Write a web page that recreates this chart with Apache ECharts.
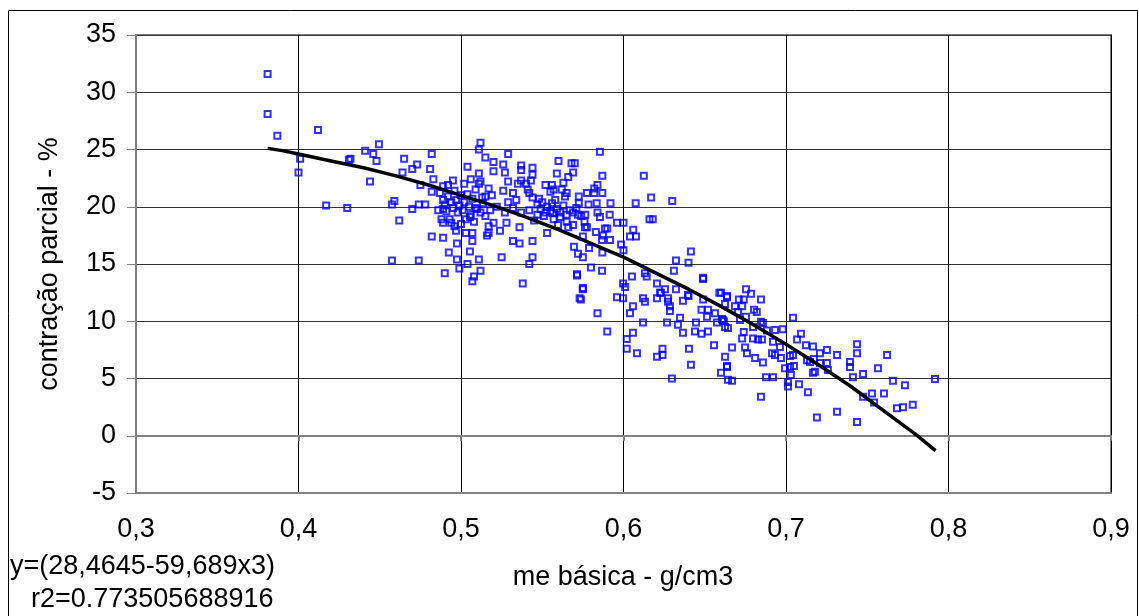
<!DOCTYPE html>
<html>
<head>
<meta charset="utf-8">
<script src="https://cdn.jsdelivr.net/npm/echarts@6/dist/echarts.min.js"></script>
<style>
html,body{margin:0;padding:0;background:#fff;}
#chart{width:1139px;height:616px;}
</style>
</head>
<body>
<div id="chart"></div>
<script>
// ---- data ----
const xTickLabels = ['0,3','0,4','0,5','0,6','0,7','0,8','0,9'];
const yTickLabels = ['-5','0','5','10','15','20','25','30','35'];
const xTitle = 'me básica - g/cm3';
const yTitle = 'contração parcial - %';
const equationText = 'y=(28,4645-59,689x3)';
const r2Text = 'r2=0.773505688916';

const scatterData = [
[0.381,31.6],[0.381,28.1],[0.387,26.2],[0.401,24.2],[0.400,23.0],[0.412,26.7],[0.417,20.1],[0.430,19.9],
[0.431,24.1],[0.432,24.2],[0.441,24.9],[0.444,22.2],[0.446,24.6],[0.448,24.0],[0.4495,25.45],
[0.465,24.2],[0.473,23.7],[0.470,23.3],[0.482,24.6],[0.481,23.3],[0.464,23.0],[0.483,22.4],[0.475,21.9],
[0.489,21.8],[0.482,21.3],[0.459,20.5],[0.4575,20.2],[0.470,19.8],[0.474,20.2],[0.478,20.2],[0.462,18.8],
[0.489,19.8],[0.489,18.6],[0.494,18.6],[0.482,17.4],[0.489,17.3],[0.4975,16.8],[0.4925,16.0],[0.4975,15.4],
[0.4575,15.3],[0.474,15.3],[0.490,14.2],[0.499,14.6],
[0.487,21.2],[0.489,20.6],[0.490,20.2],[0.491,19.6],[0.492,20.9],[0.494,20.4],[0.495,19.9],[0.496,21.4],
[0.497,20.6],[0.498,19.5],[0.499,20.1],[0.500,21.0],[0.501,19.7],[0.502,20.4],[0.503,18.9],[0.504,21.1],
[0.505,20.0],[0.506,19.3],[0.507,20.7],[0.508,18.7],[0.509,21.5],[0.510,19.8],[0.486,19.7],[0.488,18.9],
[0.493,18.9],[0.496,18.3],[0.500,18.5],[0.503,17.7],[0.497,17.9],[0.492,21.9],[0.495,22.3],[0.502,22.0],
[0.506,22.4],[0.513,20.8],[0.515,19.2],[0.517,18.3],
[0.512,25.6],[0.511,25.0],[0.515,24.3],[0.504,23.5],[0.520,23.9],[0.520,23.1],[0.526,23.7],[0.527,23.0],
[0.529,24.6],[0.537,23.6],[0.537,23.2],[0.544,23.4],[0.544,22.8],[0.511,22.9],[0.511,22.0],[0.512,22.2],
[0.517,21.6],[0.529,22.2],[0.526,21.4],[0.532,21.2],[0.535,22.0],[0.537,22.3],[0.540,22.0],[0.543,22.3],
[0.552,21.9],[0.519,21.0],[0.515,20.9],[0.529,20.4],[0.534,20.6],[0.542,21.2],[0.544,20.8],[0.547,20.2],
[0.550,20.4],[0.5135,20.3],[0.509,19.9],[0.518,19.7],[0.522,20.0],[0.527,19.5],[0.532,19.9],[0.537,19.5],
[0.542,19.7],[0.547,19.3],[0.552,19.5],[0.5055,19.1],[0.512,19.5],[0.520,18.6],[0.528,18.6],[0.536,18.2],
[0.553,17.7],[0.507,17.7],[0.507,17.0],[0.516,17.5],[0.517,17.7],[0.524,17.9],[0.532,17.0],[0.536,16.8],
[0.544,17.0],[0.5055,16.1],[0.511,15.4],[0.525,15.6],[0.544,15.6],[0.504,15.0],[0.512,14.4],[0.508,13.9],
[0.507,13.5],[0.542,15.0],[0.538,13.3],
[0.549,19.8],[0.551,19.2],[0.553,20.0],[0.555,19.6],[0.557,18.9],[0.559,19.8],[0.561,19.1],[0.563,20.1],
[0.565,18.7],[0.567,19.7],[0.569,18.4],[0.571,19.9],[0.574,19.2],[0.576,18.7],[0.545,18.8],[0.548,20.7],
[0.541,21.5],[0.555,21.3],[0.558,20.6],
[0.5855,24.8],[0.560,24.0],[0.568,23.8],[0.570,23.8],[0.559,22.9],[0.569,23.0],[0.566,22.6],[0.587,22.7],
[0.6125,22.7],[0.563,22.1],[0.584,21.9],[0.556,21.9],[0.557,21.5],[0.562,21.5],[0.565,21.2],[0.564,20.9],
[0.5775,21.2],[0.582,21.6],[0.582,21.2],[0.587,21.2],[0.5725,20.9],[0.5725,20.3],[0.556,20.3],[0.5785,20.2],
[0.5835,20.3],[0.592,20.3],[0.6075,20.3],[0.617,20.8],[0.630,20.5],
[0.5565,19.45],[0.561,19.5],[0.565,19.3],[0.569,19.5],[0.572,19.3],[0.5765,19.3],[0.584,19.5],[0.5855,19.1],
[0.5915,19.3],[0.596,18.6],[0.600,18.6],[0.616,18.9],[0.618,18.9],
[0.566,18.2],[0.5597,18.4],[0.5763,18.2],[0.5775,18.2],[0.583,17.8],[0.5886,18.1],[0.590,18.1],[0.5874,17.5],
[0.606,18.0],[0.604,17.4],[0.6077,17.4],[0.575,17.4],[0.5868,17.1],[0.5917,17.1],[0.5985,16.7],[0.600,16.2],
[0.5695,16.5],[0.5788,16.4],[0.572,15.9],[0.575,15.6],[0.587,16.0],[0.6415,16.1],[0.6323,15.3],[0.640,15.1],
[0.580,14.7],[0.5868,14.4],[0.5714,14.0],[0.631,14.4],[0.649,13.7],[0.6132,14.2],[0.6143,13.9],[0.6052,13.9],
[0.6206,13.3],[0.5997,13.3],[0.601,13.0],[0.575,12.8],[0.6255,12.8],[0.6323,12.8],[0.623,12.5],[0.573,12.0],
[0.596,12.1],[0.612,12.0],[0.6206,12.0],[0.6274,12.0],[0.6397,12.3],[0.659,12.5],[0.6637,12.1],
[0.5714,14.1],[0.575,12.9],[0.5738,11.9],[0.584,10.7],[0.590,9.1],[0.5997,12.0],[0.6132,11.7],[0.6058,11.3],
[0.604,10.7],[0.6225,12.5],[0.6274,11.7],[0.6286,11.3],[0.6286,10.9],[0.6366,11.8],[0.640,12.2],[0.649,13.8],
[0.649,11.9],[0.660,12.5],[0.6625,11.5],[0.648,11.0],[0.652,11.0],[0.6563,10.7],[0.6514,10.4],[0.612,9.9],
[0.6268,9.9],[0.6348,10.3],[0.6335,9.7],[0.6366,9.0],[0.6446,9.9],[0.644,9.1],[0.648,8.9],[0.652,9.1],
[0.6575,9.9],[0.661,10.1],[0.6625,9.5],[0.6058,9.0],[0.602,8.45],[0.602,7.6],[0.6083,7.2],[0.624,7.6],
[0.624,7.05],[0.6206,6.9],[0.6403,7.6],[0.6415,6.2],[0.6557,7.9],[0.6625,6.9],[0.6637,6.0],[0.660,5.5],
[0.6643,4.9],[0.6298,5.0],
[0.6754,12.8],[0.6785,12.4],[0.6637,12.2],[0.671,11.9],[0.674,11.9],[0.6846,11.9],[0.6686,11.3],[0.673,11.3],
[0.6803,11.0],[0.682,10.8],[0.6705,10.8],[0.6606,10.2],[0.6618,10.0],[0.6754,10.4],[0.6717,10.1],[0.6846,9.95],
[0.6858,9.85],[0.6797,9.5],[0.6643,9.4],[0.6932,9.24],[0.698,9.3],[0.6883,9.2],[0.674,9.06],[0.673,8.5],
[0.6797,8.5],[0.6828,8.4],[0.6852,8.4],[0.692,8.2],[0.7043,10.3],[0.7068,8.4],[0.7092,8.9],[0.7123,7.9],
[0.7166,7.8],[0.7209,7.2],[0.7252,7.5],[0.7314,7.05],[0.7437,8.0],[0.7437,7.2],[0.7622,7.05],[0.6748,7.7],
[0.6668,7.7],[0.676,7.2],[0.681,6.8],[0.6858,6.4],[0.6914,7.2],[0.6932,7.05],[0.6969,6.8],[0.6963,7.75],
[0.7025,6.96],[0.7043,7.05],[0.6994,5.9],[0.7025,6.0],[0.7049,6.1],[0.703,5.3],[0.7129,6.6],[0.7148,6.45],
[0.7172,6.7],[0.7166,5.5],[0.7178,5.6],[0.7209,6.35],[0.7252,6.35],[0.7258,5.75],[0.7394,6.45],[0.7394,6.0],
[0.7412,5.1],[0.7474,5.4],[0.7566,5.9],[0.7658,4.8],[0.6637,6.1],[0.6668,4.8],[0.6877,5.1],[0.692,5.1],
[0.7012,4.7],[0.7012,4.3],[0.708,4.5],[0.7135,3.8],[0.6846,3.4],[0.7474,3.4],[0.7529,3.7],[0.7542,2.9],
[0.7603,3.7],[0.7683,2.4],[0.719,1.6],[0.7314,2.1],[0.7437,1.2],[0.7917,4.95],[0.7732,4.4],[0.772,2.5],[0.778,2.7]
];

const trendX = [0.381,0.39,0.40,0.42,0.44,0.46,0.48,0.50,0.52,0.54,0.56,0.58,0.60,0.62,0.64,0.66,0.68,0.70,0.72,0.74,0.76,0.78,0.792];
const trendY = [25.1,24.9,24.6,24.0,23.4,22.7,21.9,21.0,20.1,19.1,18.0,16.8,15.6,14.2,12.8,11.3,9.7,8.0,6.2,4.3,2.2,0.1,-1.3];

// ---- chart ----
const FONT = "'Liberation Sans', Arial, sans-serif";
const chart = echarts.init(document.getElementById('chart'), null, {renderer:'canvas'});
const xMin = 0.3, xMax = 0.9, xStep = 0.1;
const yMin = -5, yMax = 35, yStep = 5;

const option = {
  animation: false,
  backgroundColor: '#fff',
  grid: {left:136, right:28, top:35, bottom:123, show:true, borderColor:'#808080', borderWidth:2},
  xAxis: [{
    type:'value', min:xMin, max:xMax, interval:xStep, position:'bottom',
    axisLine:{show:true, onZero:false, lineStyle:{color:'#808080', width:2}},
    axisTick:{show:false},
    splitLine:{show:true, lineStyle:{color:'#000', width:1}},
    axisLabel:{color:'#000', fontSize:27, fontFamily:FONT, margin:23,
      formatter:(v)=>xTickLabels[Math.round((v-xMin)/xStep)] || ''}
  },{
    type:'value', min:xMin, max:xMax, interval:xStep, position:'bottom',
    axisLine:{show:true, onZero:true, onZeroAxisIndex:0, lineStyle:{color:'#808080', width:2}},
    axisTick:{show:true, inside:false, length:5, lineStyle:{color:'#808080', width:2}},
    splitLine:{show:false}, axisLabel:{show:false}
  }],
  yAxis: {
    type:'value', min:yMin, max:yMax, interval:yStep,
    axisLine:{show:true, onZero:false, lineStyle:{color:'#808080', width:2}},
    axisTick:{show:true, length:9, lineStyle:{color:'#808080', width:1}},
    splitLine:{show:true, lineStyle:{color:'#333', width:1}},
    axisLabel:{color:'#000', fontSize:27, fontFamily:FONT, margin:20,
      formatter:(v)=>yTickLabels[Math.round((v-yMin)/yStep)] || ''}
  },
  series: [{
    type:'scatter', xAxisIndex:0, data:scatterData, symbol:'rect', symbolSize:6,
    itemStyle:{color:'rgba(0,0,0,0)', borderColor:'#0000ff', borderWidth:2},
    z:2
  },{
    type:'line', xAxisIndex:0, data:trendX.map((x,i)=>[x,trendY[i]]), showSymbol:false, symbol:'none',
    lineStyle:{color:'#000', width:3.5}, z:3
  }],
  graphic: [
    {type:'rect', shape:{x:8.5, y:10.5, width:1129, height:620}, style:{fill:'none', stroke:'#000', lineWidth:1}, silent:true},
    {type:'text', x:623, y:578, style:{text:xTitle, font:'27px '+FONT, fill:'#000', textAlign:'center', textVerticalAlign:'middle'}},
    {type:'text', x:50, y:264, rotation:Math.PI/2, style:{text:yTitle, font:'27px '+FONT, fill:'#000', textAlign:'center', textVerticalAlign:'middle'}},
    {type:'text', x:10, y:567, style:{text:equationText, font:'27px '+FONT, fill:'#000', textAlign:'left', textVerticalAlign:'middle'}},
    {type:'text', x:31, y:600, style:{text:r2Text, font:'27px '+FONT, fill:'#000', textAlign:'left', textVerticalAlign:'middle'}}
  ]
};
chart.setOption(option);
</script>
</body>
</html>
